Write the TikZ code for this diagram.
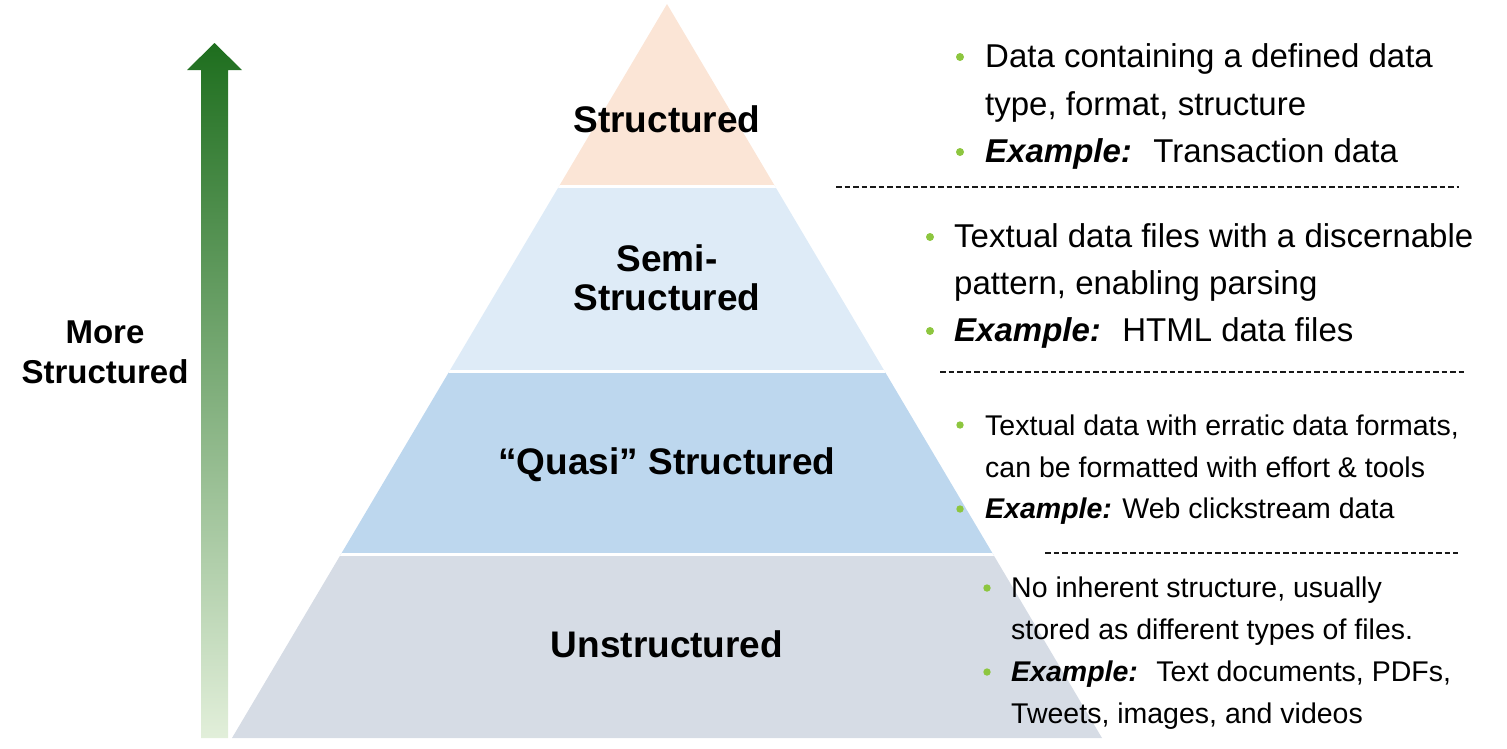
\documentclass[tikz,border=0pt]{standalone}
\usepackage{fontspec}
\setmainfont{Liberation Sans}
\definecolor{lay1}{HTML}{FBE5D6}
\definecolor{lay2}{HTML}{DEEBF7}
\definecolor{lay3}{HTML}{BDD7EE}
\definecolor{lay4}{HTML}{D6DCE5}
\definecolor{bulletgreen}{HTML}{8DC63F}
\definecolor{arrowtop}{HTML}{1E6E1E}
\definecolor{arrowmid}{HTML}{86B06A}
\definecolor{arrowbot}{HTML}{E2EFDA}
\tikzset{
  lbl/.style={anchor=base, inner sep=0pt, font=\fontsize{37}{39}\selectfont\bfseries},
  sidelbl/.style={anchor=base, inner sep=0pt, font=\fontsize{33}{40}\selectfont\bfseries},
  bigtxt/.style={anchor=base west, inner sep=0pt, font=\fontsize{33}{40}\selectfont},
  smalltxt/.style={anchor=base west, inner sep=0pt, font=\fontsize{28.5}{34}\selectfont},
  dot/.style={fill=bulletgreen, draw=none},
  sep/.style={line width=2pt, dash pattern=on 5.5pt off 3pt, draw=black!90}
}
\newcommand{\ex}{\textbf{\textit{Example:}}}
\begin{document}
\begin{tikzpicture}[x=1pt,y=-1pt]
\useasboundingbox (0,0) rectangle (1507,748);
% pyramid
\begin{scope}
  \clip (667,4) -- (1102,738) -- (232,738) -- cycle;
  \fill[lay1] (200,0) rectangle (1200,186.5);
  \fill[lay2] (200,186.5) rectangle (1200,371.5);
  \fill[lay3] (200,371.5) rectangle (1200,554.5);
  \fill[lay4] (200,554.5) rectangle (1200,748);
  \draw[white, line width=3pt] (200,186.5) -- (1200,186.5);
  \draw[white, line width=3pt] (200,371.5) -- (1200,371.5);
  \draw[white, line width=3pt] (200,554.5) -- (1200,554.5);
\end{scope}
% arrow
\shade[top color=arrowtop, middle color=arrowmid, bottom color=arrowbot]
  (214.5,43) -- (242,70) -- (228,70) -- (228,738) -- (201,738) -- (201,70) -- (187,70) -- cycle;
% pyramid labels
\node[lbl] (s1) at (667,132) {Structured};
\node[lbl] (s2a) at (667,271) {Semi-};
\node[lbl] (s2b) at (667,310) {Structured};
\node[lbl] (s3) at (667,474) {“Quasi” Structured};
\node[lbl] (s4) at (667,657) {Unstructured};
% side label
\node[sidelbl] (m1) at (105,343) {More};
\node[sidelbl] (m2) at (105,383) {Structured};
% block 1
\fill[dot] (960,57) circle (4);
\fill[dot] (960,152) circle (4);
\node[bigtxt] (b1a) at (985,67) {Data containing a defined data};
\node[bigtxt] (b1b) at (985,115) {type, format, structure};
\node[bigtxt] (b1c) at (985,162) {\ex~ Transaction data};
% block 2
\fill[dot] (930,237) circle (4);
\fill[dot] (930,331) circle (4);
\node[bigtxt] (b2a) at (954,247) {Textual data files with a discernable};
\node[bigtxt] (b2b) at (954,294) {pattern, enabling parsing};
\node[bigtxt] (b2c) at (954,341) {\ex~ HTML data files};
% block 3
\fill[dot] (960,425) circle (3.7);
\fill[dot] (960,509) circle (3.7);
\node[smalltxt] (b3a) at (985,435) {Textual data with erratic data formats,};
\node[smalltxt] (b3b) at (985,477) {can be formatted with effort \& tools};
\node[smalltxt] (b3c) at (985,518) {\ex{} Web clickstream data};
% block 4
\fill[dot] (987,588) circle (3.7);
\fill[dot] (987,672) circle (3.7);
\node[smalltxt] (b4a) at (1011,597) {No inherent structure, usually};
\node[smalltxt] (b4b) at (1011,639) {stored as different types of files.};
\node[smalltxt] (b4c) at (1011,681) {\ex~ Text documents, PDFs,};
\node[smalltxt] (b4d) at (1011,723) {Tweets, images, and videos};
% dashed separators
\coordinate (d1a) at (836,187); \coordinate (d1b) at (1459,187);
\coordinate (d2a) at (940,372); \coordinate (d2b) at (1465,372);
\coordinate (d3a) at (1045,553); \coordinate (d3b) at (1458,553);
\draw[sep] (d1a) -- (d1b);
\draw[sep] (d2a) -- (d2b);
\draw[sep] (d3a) -- (d3b);
\end{tikzpicture}
\end{document}
